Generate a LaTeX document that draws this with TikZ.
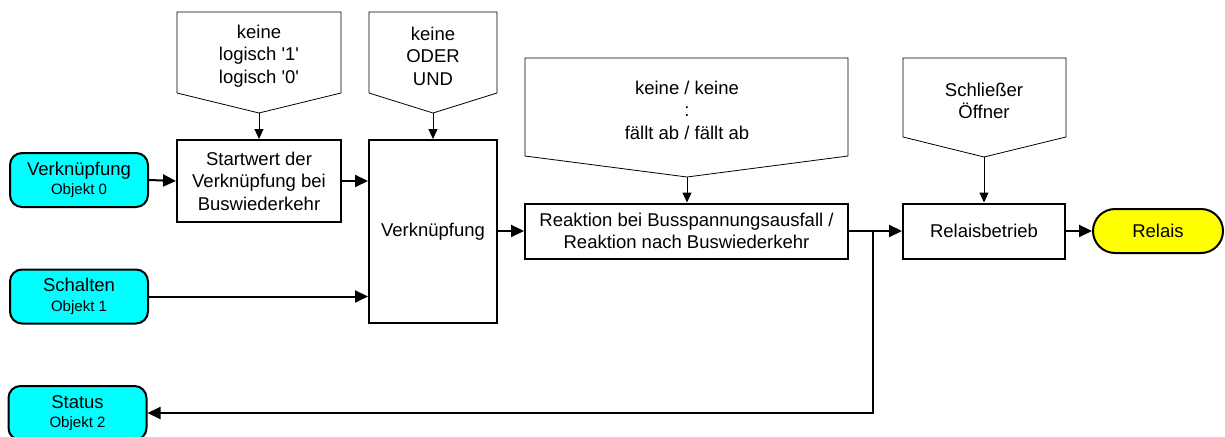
\documentclass[tikz,border=0pt]{standalone}
\usepackage{fontspec}
\setmainfont{Liberation Sans}
\usetikzlibrary{arrows.meta}
\definecolor{obj}{HTML}{00FFFF}
\definecolor{rel}{HTML}{FFFF00}
\newcommand{\bigf}{\fontsize{18.5}{22.5}\selectfont}
\newcommand{\smf}{\fontsize{15}{22}\selectfont}
\newcommand{\sq}{\textquotesingle}
\tikzset{
  big/.style={font=\bigf},
  box/.style={draw, line width=2pt, fill=white, align=center, inner sep=0pt, big},
  objbox/.style={draw, line width=2pt, fill=obj, rounded corners=12pt, align=center, inner sep=0pt, minimum width=138pt, minimum height=54pt, big},
  callout/.style={draw, line width=0.8pt, fill=white},
  ctext/.style={align=center, inner sep=0pt, big},
  conn/.style={line width=2pt, -{Triangle[length=13pt,width=12pt]}},
  thin/.style={line width=1pt, -{Triangle[length=10pt,width=9pt]}},
}
\begin{document}
\begin{tikzpicture}[x=1pt,y=-1pt]
\useasboundingbox (0,0) rectangle (1225,436);
% input objects
\node[objbox] (o0) at (79,180) {Verknüpfung\\[-3pt]{\smf Objekt 0}};
\node[objbox] (o1) at (79,296.5) {Schalten\\[-3pt]{\smf Objekt 1}};
\node[objbox] (o2) at (77.5,413) {Status\\[-3pt]{\smf Objekt 2}};
% boxes
\node[box, minimum width=164pt, minimum height=82pt] (start) at (259,181) {Startwert der\\Verknüpfung bei\\Buswiederkehr};
\node[box, minimum width=128pt, minimum height=183pt] (verk) at (433,231.5) {Verknüpfung};
\node[box, minimum width=323pt, minimum height=55pt] (reak) at (686.5,231) {Reaktion bei Busspannungsausfall /\\Reaktion nach Buswiederkehr};
\node[box, minimum width=162pt, minimum height=55pt] (relb) at (984,231) {Relaisbetrieb};
\node[draw, line width=2pt, fill=rel, rounded corners=22pt, minimum width=130pt, minimum height=44pt, inner sep=0pt, big] (relais) at (1158,231) {Relais};
% callouts
\draw[callout] (177,12) -- (341,12) -- (341,93) -- (259,113) -- (177,93) -- cycle;
\coordinate (t1) at (259,113);
\node[ctext] (c1) at (259,56) {keine\\logisch \sq1\sq\\logisch \sq0\sq};
\draw[callout] (369,12) -- (497,12) -- (497,93) -- (433,113) -- (369,93) -- cycle;
\coordinate (t2) at (433,113);
\node[ctext] (c2) at (433,56) {keine\\ODER\\UND};
\draw[callout] (525,58) -- (848,58) -- (848,156) -- (687,177) -- (525,156) -- cycle;
\coordinate (t3) at (687,177);
\node[ctext] (c3) at (687,110) {keine / keine\\:\\fällt ab / fällt ab};
\draw[callout] (903,58) -- (1066,58) -- (1066,137) -- (984,157) -- (903,137) -- cycle;
\coordinate (t4) at (984,157);
\node[ctext] (c4) at (984,101) {Schließer\\Öffner};
% callout arrows
\draw[thin] (t1) -- (start.north);
\draw[thin] (t2) -- (t2 |- verk.north);
\draw[thin] (t3) -- (t3 |- reak.north);
\draw[thin] (t4) -- (t4 |- relb.north);
% connectors
\draw[conn] (o0.east) -- (start.west);
\draw[conn] (start.east) -- (start.east -| verk.west);
\draw[conn] (o1.east) -- (o1.east -| verk.west);
\draw[conn] (verk.east |- reak.west) -- (reak.west);
\draw[conn] (reak.east) -- (relb.west);
\draw[conn] (relb.east) -- (relais.west);
\coordinate (j) at (873,231);
\draw[conn] (j) |- (o2.east);
\end{tikzpicture}
\end{document}
